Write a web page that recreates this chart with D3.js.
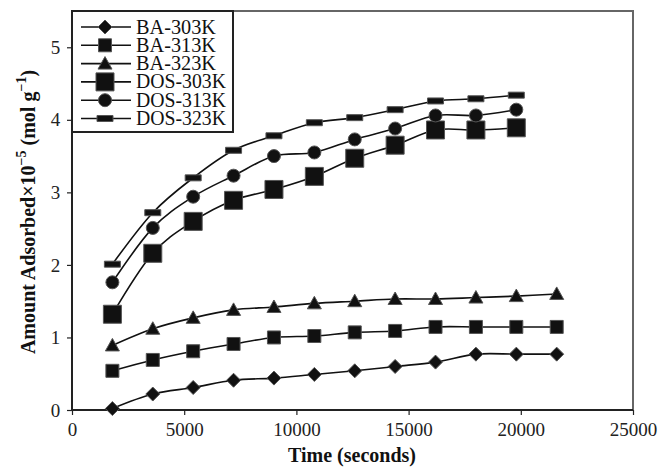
<!DOCTYPE html>
<html><head><meta charset="utf-8">
<script src="https://cdn.jsdelivr.net/npm/d3@7"></script>
<style>body{margin:0;background:#fff;} svg{display:block;}</style>
</head><body>
<svg id="c" width="661" height="467"></svg>
<script>
const timesBA = [1800,3600,5400,7200,9000,10800,12600,14400,16200,18000,19800,21600];
const timesDOS = [1800,3600,5400,7200,9000,10800,12600,14400,16200,18000,19800];
const ba303 = [0.02,0.22,0.31,0.41,0.44,0.49,0.54,0.60,0.66,0.77,0.77,0.77];
const ba313 = [0.54,0.69,0.81,0.91,1.00,1.02,1.07,1.09,1.145,1.145,1.145,1.145];
const ba323 = [0.89,1.12,1.27,1.38,1.42,1.47,1.50,1.53,1.53,1.55,1.57,1.60];
const dos303 = [1.32,2.16,2.60,2.89,3.04,3.22,3.47,3.65,3.86,3.86,3.89];
const dos313 = [1.76,2.51,2.94,3.23,3.50,3.55,3.73,3.88,4.06,4.06,4.14];
const dos323 = [2.01,2.72,3.20,3.58,3.78,3.96,4.03,4.14,4.26,4.29,4.34];
const seriesNames = ["BA-303K","BA-313K","BA-323K","DOS-303K","DOS-313K","DOS-323K"];
const xTicks = [0,5000,10000,15000,20000,25000];
const yTicks = [0,1,2,3,4,5];

const series = [
  {name:seriesNames[0], t:timesBA, v:ba303, m:"diamond"},
  {name:seriesNames[1], t:timesBA, v:ba313, m:"square"},
  {name:seriesNames[2], t:timesBA, v:ba323, m:"triangle"},
  {name:seriesNames[3], t:timesDOS, v:dos303, m:"bigsquare"},
  {name:seriesNames[4], t:timesDOS, v:dos313, m:"circle"},
  {name:seriesNames[5], t:timesDOS, v:dos323, m:"dash"}
];

const L=72, R=633, T=11, B=410;
const x = d3.scaleLinear().domain([0,25000]).range([L,R]);
const y = d3.scaleLinear().domain([0,5.5]).range([B,T]);
const svg = d3.select("#c");
const font = "'Liberation Serif','Times New Roman',serif";

function markerPath(m){
  switch(m){
    case "diamond": return "M0,-7L7,0L0,7L-7,0Z";
    case "square": return "M-6.5,-6.5H6.5V6.5H-6.5Z";
    case "triangle": return "M0,-7L7,5.5H-7Z";
    case "bigsquare": return "M-9,-9H9V9H-9Z";
    case "circle": return d3.symbol(d3.symbolCircle, Math.PI*6.5*6.5)();
    case "dash": return "M-8,-3H8V3H-8Z";
  }
}

// frame top/right
svg.append("path").attr("d",`M${L},${T}H${R}V${B}`).attr("fill","none").attr("stroke","#666").attr("stroke-width",2);

// axes
const xAxis = d3.axisBottom(x).tickValues(xTicks).tickSize(5).tickSizeOuter(0).tickFormat(d3.format("d"));
const gx = svg.append("g").attr("transform",`translate(0,${B})`).call(xAxis);
const yAxis = d3.axisLeft(y).tickValues(yTicks).tickSize(5).tickSizeOuter(0).tickFormat(d3.format("d"));
const gy = svg.append("g").attr("transform",`translate(${L},0)`).call(yAxis);
[gx,gy].forEach(g=>{
  g.select(".domain").attr("stroke","#222").attr("stroke-width",2);
  g.selectAll(".tick line").attr("stroke","#222").attr("stroke-width",1.2);
  g.selectAll(".tick text").attr("font-family",font).attr("font-size",19).attr("fill","#222");
});
gx.selectAll(".tick text").attr("dy","0.95em");
gy.selectAll(".tick text").attr("dx","-0.2em");
gy.select(".domain").attr("d",`M0,${T}V${B}`);
gx.select(".domain").attr("d",`M${L},0H${R}`);

// lines
const line = d3.line().curve(d3.curveCatmullRom.alpha(0)).x(d=>x(d[0])).y(d=>y(d[1]));
series.forEach(s=>{
  const pts = s.t.map((t,i)=>[t,s.v[i]]);
  svg.append("path").attr("d",line(pts)).attr("fill","none").attr("stroke","#111").attr("stroke-width",1.6);
  svg.append("g").selectAll("path").data(pts).join("path")
    .attr("d",markerPath(s.m))
    .attr("transform",d=>`translate(${x(d[0])},${y(d[1])})`)
    .attr("fill","#111").attr("stroke","#555").attr("stroke-width",1);
});

// legend
const lg = svg.append("g");
lg.append("rect").attr("x",L).attr("y",T).attr("width",161).attr("height",121)
  .attr("fill","#fff").attr("stroke","#222").attr("stroke-width",2);
series.forEach((s,i)=>{
  const cy = 27 + i*18.3;
  lg.append("line").attr("x1",81).attr("x2",131).attr("y1",cy).attr("y2",cy).attr("stroke","#111").attr("stroke-width",1.6);
  lg.append("path").attr("d",markerPath(s.m)).attr("transform",`translate(105,${cy})`)
    .attr("fill","#111").attr("stroke","#555").attr("stroke-width",1);
  lg.append("text").attr("x",136).attr("y",cy+6.5).attr("font-family",font).attr("font-size",20)
    .attr("fill","#111").attr("textLength", s.name.startsWith("DOS")?90:80).attr("lengthAdjust","spacingAndGlyphs").text(s.name);
});

// axis titles
svg.append("text").attr("x",352).attr("y",462).attr("text-anchor","middle")
  .attr("font-family",font).attr("font-weight","bold").attr("font-size",20).attr("fill","#111")
  .text("Time (seconds)");
const yt = svg.append("text").attr("transform","translate(35,212) rotate(-90)").attr("text-anchor","middle")
  .attr("font-family",font).attr("font-weight","bold").attr("font-size",20).attr("fill","#111");
yt.append("tspan").text("Amount Adsorbed×10");
yt.append("tspan").attr("dy",-9).attr("font-size",14).text("−5");
yt.append("tspan").attr("dy",9).text(" (mol g");
yt.append("tspan").attr("dy",-9).attr("font-size",14).text("−1");
yt.append("tspan").attr("dy",9).text(")");
</script>
</body></html>
